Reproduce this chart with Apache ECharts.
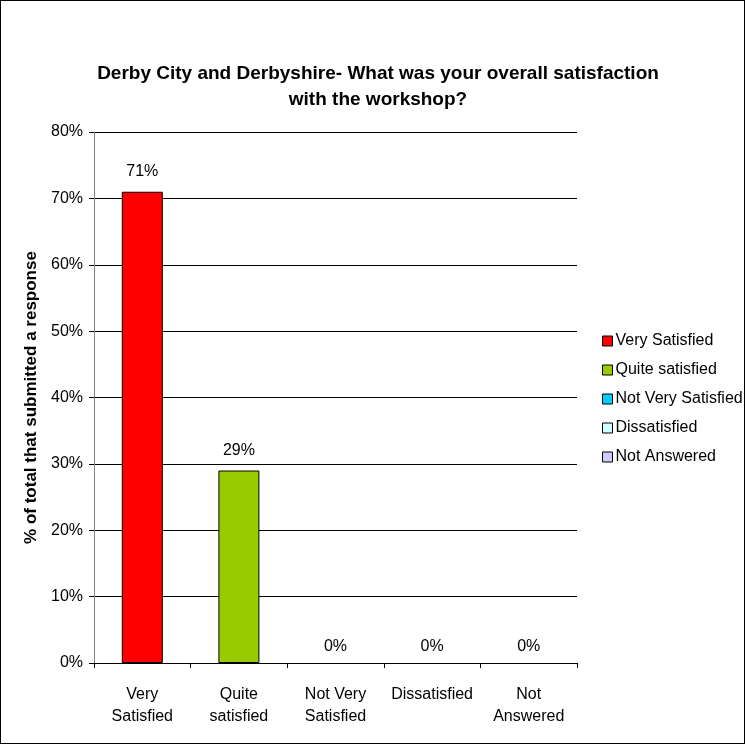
<!DOCTYPE html>
<html>
<head>
<meta charset="utf-8">
<script src="https://cdn.jsdelivr.net/npm/echarts@6/dist/echarts.min.js"></script>
<style>
html,body{margin:0;padding:0;background:#fff;}
#c{width:743px;height:742px;border:1px solid #000;}
</style>
</head>
<body>
<div id="c"></div>
<script>
const categories = ['Very\nSatisfied', 'Quite\nsatisfied', 'Not Very\nSatisfied', 'Dissatisfied', 'Not\nAnswered'];
const seriesNames = ['Very Satisfied', 'Quite satisfied', 'Not Very Satisfied', 'Dissatisfied', 'Not Answered'];
const values = [71, 29, 0, 0, 0];
const colors = ['#FF0000', '#99CC00', '#00CCFF', '#CCFFFF', '#CCCCFF'];
const yTicks = [0, 10, 20, 30, 40, 50, 60, 70, 80];

const chart = echarts.init(document.getElementById('c'));
const font = 'Liberation Sans, Arial, sans-serif';
chart.setOption({
  animation: false,
  textStyle: {fontFamily: font},
  title: {
    text: 'Derby City and Derbyshire- What was your overall satisfaction\nwith the workshop?',
    left: 372, top: 55, textAlign: 'center',
    textStyle: {fontSize: 19, fontWeight: 'bold', color: '#000', lineHeight: 26, fontFamily: font}
  },
  legend: {
    orient: 'vertical', left: 601, top: 332, padding: 0,
    itemWidth: 10, itemHeight: 10, itemGap: 13,
    icon: 'rect',
    textStyle: {fontSize: 16, color: '#000', fontFamily: font, padding: [0, 0, 0, -2]},
    data: seriesNames.map((n, i) => ({name: n, itemStyle: {color: colors[i], borderColor: '#000', borderWidth: 1}}))
  },
  grid: {left: 93, right: 167, top: 131, bottom: 80},
  xAxis: {
    type: 'category', data: categories,
    axisLine: {lineStyle: {color: '#000', width: 1}},
    axisTick: {show: true, length: 5, lineStyle: {color: '#000'}},
    axisLabel: {fontSize: 16, color: '#000', lineHeight: 22, margin: 21, interval: 0, fontFamily: font}
  },
  yAxis: {
    type: 'value', min: yTicks[0], max: yTicks[yTicks.length - 1], interval: 10,
    name: '% of total that submitted a response',
    nameLocation: 'middle', nameGap: 50,
    nameTextStyle: {fontSize: 17, fontWeight: 'bold', color: '#000', fontFamily: font},
    axisLine: {show: true, lineStyle: {color: '#808080', width: 1}},
    axisTick: {show: true, length: 5, lineStyle: {color: '#000'}},
    axisLabel: {fontSize: 16, color: '#000', formatter: '{value}%', margin: 11, fontFamily: font},
    splitLine: {lineStyle: {color: '#000', width: 1}}
  },
  series: seriesNames.map((n, i) => ({
    name: n, type: 'bar', stack: 'all', barWidth: 41,
    itemStyle: {color: colors[i], borderColor: '#000', borderWidth: values[i] > 0 ? 1 : 0},
    label: {show: true, position: 'top', distance: values[i] > 0 ? 12 : 8, formatter: '{c}%', fontSize: 16, color: '#000', fontFamily: font},
    data: categories.map((c, j) => j === i ? values[i] : null)
  }))
});
</script>
</body>
</html>
